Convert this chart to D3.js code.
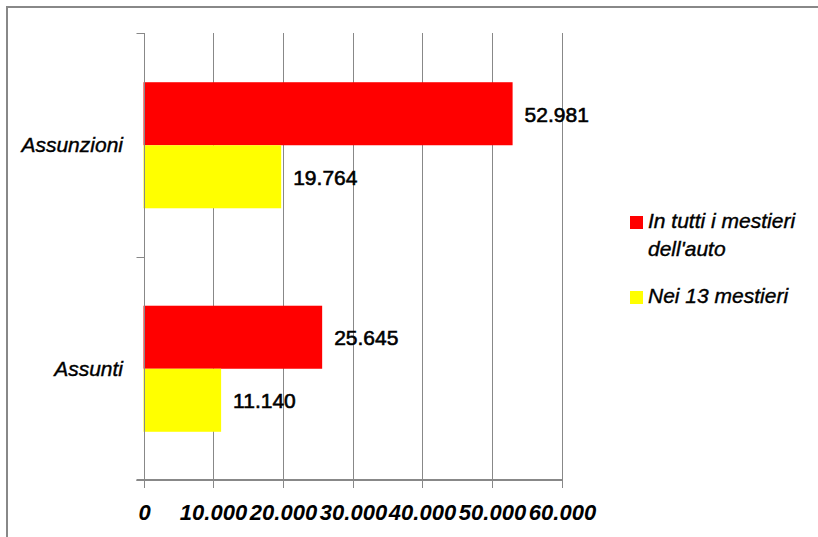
<!DOCTYPE html>
<html>
<head>
<meta charset="utf-8">
<script src="https://cdn.jsdelivr.net/npm/d3@7"></script>
<style>
  html, body { margin: 0; padding: 0; background: #fff; }
  svg { display: block; }
</style>
</head>
<body>
<svg id="chart" width="818" height="537"></svg>
<script>
// ---- data ----
const categories = ["Assunzioni", "Assunti"];
const seriesNames = ["In tutti i mestieri dell'auto", "Nei 13 mestieri"];
const seriesLegendLines = [["In tutti i mestieri", "dell'auto"], ["Nei 13 mestieri"]];
const seriesColors = ["#FF0000", "#FFFF00"];
const valuesTutti = [52981, 25645];
const valuesTredici = [19764, 11140];
const xTicks = [0, 10000, 20000, 30000, 40000, 50000, 60000];

const seriesValues = [valuesTutti, valuesTredici];

const it = d3.formatLocale({ decimal: ",", thousands: ".", grouping: [3], currency: ["€", ""] });
const fmt = it.format(",d");

const svg = d3.select("#chart");
const gray = "#888888";
const font = "'Liberation Sans', Arial, sans-serif";

// outer frame (only left and top visible)
svg.append("rect").attr("x", 7).attr("y", 7).attr("width", 830).attr("height", 560)
  .attr("fill", "none").attr("stroke", gray).attr("stroke-width", 2);

const plotLeft = 143.5, plotRight = 561.5, plotTop = 33, plotBottom = 480;

const x = d3.scaleLinear().domain([0, 60000]).range([plotLeft, plotRight]);
const y = d3.scaleBand().domain(categories).range([plotTop + 0.5, plotBottom + 0.5])
  .paddingInner(0.436).paddingOuter(0.218);
const ySub = d3.scaleBand().domain(d3.range(seriesNames.length)).range([0, y.bandwidth()]);

const px = v => Math.round(x(v)) + 0.5;

// vertical gridlines
svg.append("g").selectAll("line").data(xTicks.filter(d => d > 0)).join("line")
  .attr("x1", px).attr("x2", px)
  .attr("y1", plotTop).attr("y2", plotBottom)
  .attr("stroke", gray).attr("stroke-width", 1);

// bars
const groups = svg.append("g").selectAll("g").data(categories).join("g")
  .attr("transform", d => `translate(0,${y(d)})`);

groups.each(function(cat, ci) {
  const g = d3.select(this);
  seriesValues.forEach((vals, si) => {
    g.append("rect")
      .attr("x", x(0))
      .attr("y", ySub(si))
      .attr("width", x(vals[ci]) - x(0))
      .attr("height", ySub.bandwidth())
      .attr("fill", seriesColors[si]);
    g.append("text")
      .attr("x", x(vals[ci]) + 12)
      .attr("y", ySub(si) + ySub.bandwidth() / 2 + 8)
      .attr("font-family", font)
      .attr("font-size", 21)
      .attr("fill", "#000")
      .attr("stroke", "#000").attr("stroke-width", 0.6)
      .text(fmt(vals[ci]));
  });
});

// category axis (vertical line at 0 + ticks at band boundaries)
svg.append("line")
  .attr("x1", px(0)).attr("x2", px(0))
  .attr("y1", plotTop).attr("y2", plotBottom)
  .attr("stroke", gray).attr("stroke-width", 1);
const boundaries = [plotTop, plotTop + y.step(), plotBottom];
svg.append("g").selectAll("line").data(boundaries).join("line")
  .attr("x1", px(0) - 8).attr("x2", px(0))
  .attr("y1", d => Math.round(d) + 0.5).attr("y2", d => Math.round(d) + 0.5)
  .attr("stroke", gray).attr("stroke-width", 1);

svg.append("g").selectAll("text").data(categories).join("text")
  .attr("x", 123)
  .attr("y", d => y(d) + y.bandwidth() / 2 + 7)
  .attr("text-anchor", "end")
  .attr("font-family", font)
  .attr("font-style", "italic")
  .attr("font-size", 21)
  .attr("fill", "#000")
  .attr("stroke", "#000").attr("stroke-width", 0.4)
  .text(d => d);

// value axis
const xAxis = d3.axisBottom(x).tickValues(xTicks).tickSize(8).tickFormat(fmt);
const ax = svg.append("g").attr("transform", `translate(0,${plotBottom})`).call(xAxis);
ax.select(".domain").remove();
ax.selectAll(".tick line").attr("stroke", gray).attr("stroke-width", 1);
ax.selectAll(".tick").attr("transform", d => `translate(${px(d)},0)`);
ax.selectAll(".tick text")
  .attr("y", 0).attr("dy", 40)
  .attr("font-family", font)
  .attr("font-style", "italic")
  .attr("font-weight", "bold")
  .attr("font-size", 22)
  .attr("fill", "#000");
svg.append("line")
  .attr("x1", px(0) - 8).attr("x2", px(60000) + 0.5)
  .attr("y1", plotBottom).attr("y2", plotBottom)
  .attr("stroke", gray).attr("stroke-width", 2);

// legend
const legendItems = [
  { color: seriesColors[0], lines: seriesLegendLines[0], y: 216 },
  { color: seriesColors[1], lines: seriesLegendLines[1], y: 291 }
];
const lg = svg.append("g").selectAll("g").data(legendItems).join("g");
lg.append("rect").attr("x", 630).attr("y", d => d.y).attr("width", 13).attr("height", 13)
  .attr("fill", d => d.color);
lg.each(function(d) {
  const t = d3.select(this).append("text")
    .attr("font-family", font).attr("font-style", "italic").attr("font-size", 21)
    .attr("fill", "#000").attr("stroke", "#000").attr("stroke-width", 0.4);
  d.lines.forEach((ln, i) => {
    t.append("tspan").attr("x", 648).attr("y", d.y + 12 + i * 28).text(ln);
  });
});
</script>
</body>
</html>
